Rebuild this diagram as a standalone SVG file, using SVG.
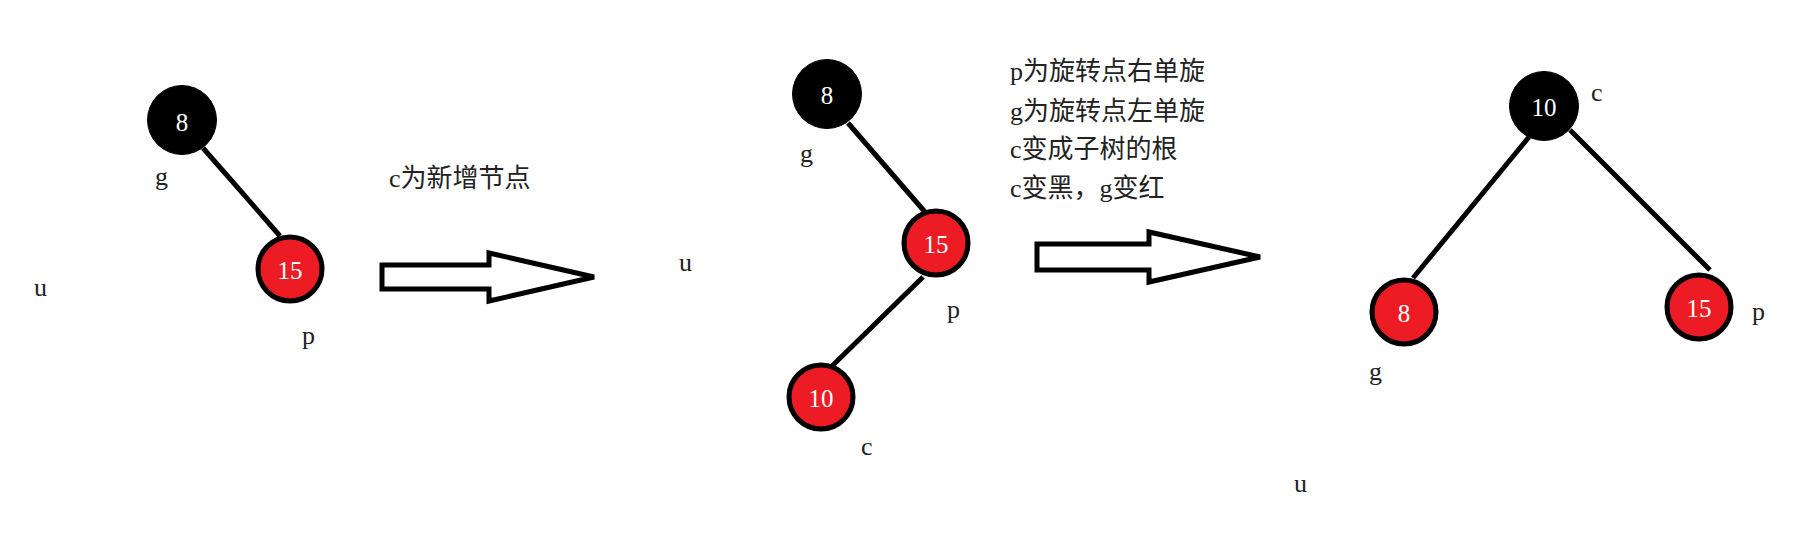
<svg xmlns="http://www.w3.org/2000/svg" width="1818" height="542" viewBox="0 0 1818 542">
<style>
.bk{fill:#000;stroke:#000;stroke-width:1}
.rd{fill:#ED1C24;stroke:#000;stroke-width:5}
.nt{font-family:"Liberation Serif","DejaVu Serif",serif;font-size:25px;fill:#fff;text-anchor:middle}
.lb{font-family:"Liberation Serif","DejaVu Serif",serif;font-size:26px;fill:#222}
.tx{font-family:"Liberation Serif","Noto Sans CJK SC",sans-serif;font-size:26px;fill:#222}
.ed{stroke:#000;stroke-width:5;fill:none}
.ar{fill:#fff;stroke:#000;stroke-width:5;stroke-linejoin:miter}
</style>
<rect width="1818" height="542" fill="#fff"/>
<g id="connectors">
<line class="ed" x1="203" y1="148" x2="280" y2="236"/>
<line class="ed" x1="848" y1="123" x2="925" y2="212"/>
<line class="ed" x1="923" y1="277" x2="830" y2="368"/>
<line class="ed" x1="1529" y1="137" x2="1413" y2="278"/>
<line class="ed" x1="1570" y1="130" x2="1710" y2="270"/>
<polygon class="ar" points="382,265 489,265 489,253 594,277 489,301 489,289 382,289"/>
<polygon class="ar" points="1037,244 1149,244 1149,232 1260,257 1149,282 1149,270 1037,270"/>
</g>
<g id="left-g"><circle class="bk" cx="182" cy="120" r="34.5"/><text class="nt" x="182" y="131">8</text></g>
<g id="left-p"><circle class="rd" cx="290" cy="269" r="32"/><text class="nt" x="290" y="279">15</text></g>
<g id="mid-g"><circle class="bk" cx="827" cy="94" r="34.5"/><text class="nt" x="827" y="104">8</text></g>
<g id="mid-p"><circle class="rd" cx="936" cy="243" r="32"/><text class="nt" x="936" y="253">15</text></g>
<g id="mid-c"><circle class="rd" cx="821" cy="397" r="32"/><text class="nt" x="821" y="407">10</text></g>
<g id="right-c"><circle class="bk" cx="1544" cy="106" r="34.5"/><text class="nt" x="1544" y="116">10</text></g>
<g id="right-g"><circle class="rd" cx="1404" cy="312" r="32"/><text class="nt" x="1404" y="322">8</text></g>
<g id="right-p"><circle class="rd" cx="1699" cy="307" r="32"/><text class="nt" x="1699" y="317">15</text></g>
<g id="labels">
<text class="lb" x="155" y="185">g</text>
<text class="lb" x="302" y="344">p</text>
<text class="lb" x="34" y="296">u</text>
<text class="lb" x="800" y="162">g</text>
<text class="lb" x="679" y="271">u</text>
<text class="lb" x="947" y="318">p</text>
<text class="lb" x="861" y="455">c</text>
<text class="lb" x="1591" y="101">c</text>
<text class="lb" x="1752" y="320">p</text>
<text class="lb" x="1369" y="380">g</text>
<text class="lb" x="1294" y="492">u</text>
</g>
<g id="notes">
<text class="tx" x="389" y="187">c为新增节点</text>
<text class="tx" x="1010" y="80">p为旋转点右单旋</text>
<text class="tx" x="1010" y="120">g为旋转点左单旋</text>
<text class="tx" x="1010" y="158">c变成子树的根</text>
<text class="tx" x="1010" y="197">c变黑，g变红</text>
</g>
</svg>
